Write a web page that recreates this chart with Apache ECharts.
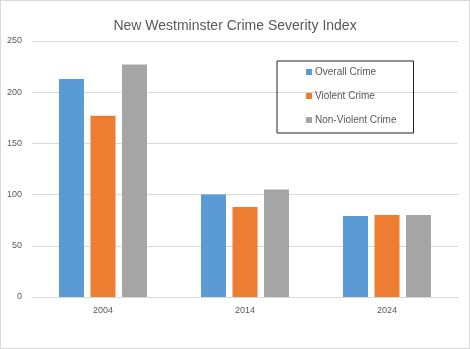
<!DOCTYPE html>
<html><head><meta charset="utf-8">
<script src="https://cdn.jsdelivr.net/npm/echarts@6/dist/echarts.min.js"></script>
<style>html,body{margin:0;padding:0;background:#fff}#c{width:468px;height:347px;border:1px solid #d9d9d9}</style>
</head><body><div id="c"></div>
<script>
const categories = ['2004', '2014', '2024'];
const overallCrime = [213, 100, 79];
const violentCrime = [177, 88, 80];
const nonViolentCrime = [227, 105, 80];
const seriesNames = ['Overall Crime', 'Violent Crime', 'Non-Violent Crime'];
const colors = ['#5B9BD5', '#ED7D31', '#A5A5A5'];
const chart = echarts.init(document.getElementById('c'));
const font = 'Liberation Sans, Arial, sans-serif';
chart.setOption({
  animation: false,
  textStyle: {fontFamily: font},
  title: {text: 'New Westminster Crime Severity Index', left: 'center', top: 13,
    textStyle: {fontSize: 14, fontWeight: 'normal', color: '#595959', fontFamily: font}},
  legend: {orient: 'vertical', left: 276, top: 60, itemWidth: 6, itemHeight: 6, itemGap: 14,
    padding: [6, 17, 8, 29], borderColor: '#222', borderWidth: 1,
    icon: 'rect', textStyle: {fontSize: 10, color: '#595959', fontFamily: font, padding: [0,0,0,-2]},
    data: seriesNames},
  grid: {left: 31, right: 11, top: 40, bottom: 51},
  xAxis: {type: 'category', data: categories,
    axisLine: {lineStyle: {color: '#d9d9d9'}}, axisTick: {show: false},
    axisLabel: {color: '#595959', fontSize: 9, margin: 9}},
  yAxis: {type: 'value', min: 0, max: 250, interval: 50,
    axisLine: {show: false}, axisTick: {show: false},
    splitLine: {lineStyle: {color: '#d9d9d9'}},
    axisLabel: {color: '#595959', fontSize: 9, margin: 10}},
  series: [
    {name: seriesNames[0], type: 'bar', data: overallCrime, itemStyle: {color: colors[0]}, barWidth: 25, barGap: '26%'},
    {name: seriesNames[1], type: 'bar', data: violentCrime, itemStyle: {color: colors[1]}, barWidth: 25, barGap: '26%'},
    {name: seriesNames[2], type: 'bar', data: nonViolentCrime, itemStyle: {color: colors[2]}, barWidth: 25, barGap: '26%'}
  ]
});
</script></body></html>
